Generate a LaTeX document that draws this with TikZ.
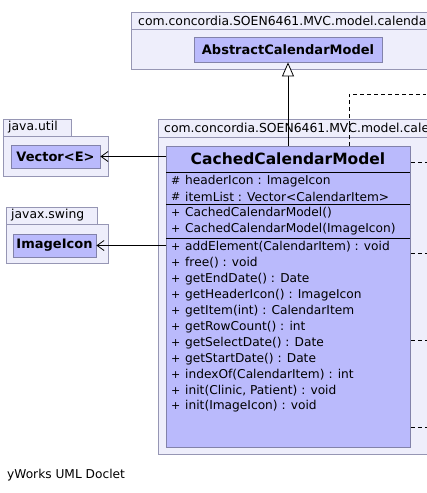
\documentclass[tikz,border=0pt]{standalone}
\usepackage{fontspec}
\setmainfont{DejaVu Sans}
\usetikzlibrary{arrows.meta}
\definecolor{pkgfill}{RGB}{238,238,251}
\definecolor{pkgline}{RGB}{150,150,180}
\definecolor{clsfill}{RGB}{186,186,252}
\definecolor{clsline}{RGB}{130,130,170}
\tikzset{
  pkg/.style={draw=pkgline, fill=pkgfill, line width=0.8pt},
  cls/.style={draw=clsline, fill=clsfill, line width=0.8pt},
  pkgtxt/.style={anchor=west, inner sep=0pt, font=\fontsize{12.4}{14}\selectfont},
  boxlbl/.style={cls, inner sep=0pt, font=\fontsize{13}{15}\bfseries\selectfont},
  row/.style={anchor=west, inner sep=0pt, font=\fontsize{12.2}{14}\selectfont},
  sym/.style={anchor=west, inner sep=0pt, font=\fontsize{11}{14}\selectfont},
  dep/.style={dashed, dash pattern=on 4pt off 3pt, line width=0.7pt},
  assoc/.style={line width=0.8pt, -{Straight Barb[length=7pt,width=10pt,line width=0.8pt]}},
  gen/.style={line width=0.8pt, -{Triangle[open,length=14pt,width=12pt,line width=0.8pt,fill=white]}}
}
\begin{document}
\begin{tikzpicture}[x=1pt,y=-1pt]
\useasboundingbox (0,0) rectangle (427,493);
\clip (0,0) rectangle (427,493);
\fill[white] (0,0) rectangle (427,493);
% top package
\draw[pkg] (131,12) rectangle (440,29);
\draw[pkg] (131,29) rectangle (440,69);
\node[pkgtxt] (ptopl) at (138,20.5) {com.concordia.SOEN6461.MVC.model.calendar};
\node[boxlbl, minimum width=188pt, minimum height=25pt] (abs) at (288,49.5) {AbstractCalendarModel};
% second package
\draw[pkg] (158,119) rectangle (440,137);
\draw[pkg] (158,137) rectangle (440,454);
\node[pkgtxt] (pmainl) at (164,128) {com.concordia.SOEN6461.MVC.model.calendar};
% java.util
\draw[pkg] (3,119) rectangle (71,136);
\draw[pkg] (3,136) rectangle (108,176);
\node[pkgtxt] (putill) at (8,127.5) {java.util};
\node[boxlbl, minimum width=89pt, minimum height=23pt] (vec) at (55.5,156.5) {Vector<E>};
% javax.swing
\draw[pkg] (6,207) rectangle (97,224);
\draw[pkg] (6,224) rectangle (108,263);
\node[pkgtxt] (pswingl) at (11,215.5) {javax.swing};
\node[boxlbl, minimum width=83pt, minimum height=23pt] (img) at (54.5,245.5) {ImageIcon};
% class
\node[cls, minimum width=244pt, minimum height=301pt, inner sep=0pt, anchor=north west] (cc) at (166,146) {};
\node[inner sep=0pt, font=\fontsize{15.5}{18}\bfseries\selectfont] (ccname) at (288,159) {CachedCalendarModel};
\coordinate (d1l) at (166,172); \coordinate (d1r) at (410,172);
\coordinate (d2l) at (166,204); \coordinate (d2r) at (410,204);
\coordinate (d3l) at (166,238); \coordinate (d3r) at (410,238);
\draw[line width=0.8pt] (d1l) -- (d1r);
\draw[line width=0.8pt] (d2l) -- (d2r);
\draw[line width=0.8pt] (d3l) -- (d3r);
\foreach \y/\s/\t [count=\i] in {
 181/\#/{headerIcon : ImageIcon},
 197/\#/{itemList : Vector<CalendarItem>},
 213/+/{CachedCalendarModel()},
 229/+/{CachedCalendarModel(ImageIcon)},
 247/+/{addElement(CalendarItem) : void},
 263/+/{free() : void},
 279/+/{getEndDate() : Date},
 295/+/{getHeaderIcon() : ImageIcon},
 311/+/{getItem(int) : CalendarItem},
 327/+/{getRowCount() : int},
 343/+/{getSelectDate() : Date},
 359/+/{getStartDate() : Date},
 375/+/{indexOf(CalendarItem) : int},
 391/+/{init(Clinic, Patient) : void},
 406/+/{init(ImageIcon) : void}}
{
 \node[sym] (s\i) at (171,\y) {\s};
 \node[row] (t\i) at (185,\y) {\t};
}
% connectors
\draw[gen] (cc.north -| abs.south) -- (abs.south);
\coordinate (depa) at (349,94);
\coordinate (depb) at (426,94);
\draw[dep] (cc.north -| depa) -- (depa) -- (depb);
\draw[assoc] (cc.west |- vec.east) -- (vec.east);
\draw[assoc] (cc.west |- img.east) -- (img.east);
\foreach \y [count=\j] in {162,253,340,427}{
 \coordinate (e\j) at (427,\y);
 \draw[dep] (cc.east |- e\j) -- (e\j);
}
\node[anchor=west, inner sep=0pt, font=\fontsize{12.2}{14}\selectfont] (yw) at (7,475) {yWorks UML Doclet};
\end{tikzpicture}
\end{document}
